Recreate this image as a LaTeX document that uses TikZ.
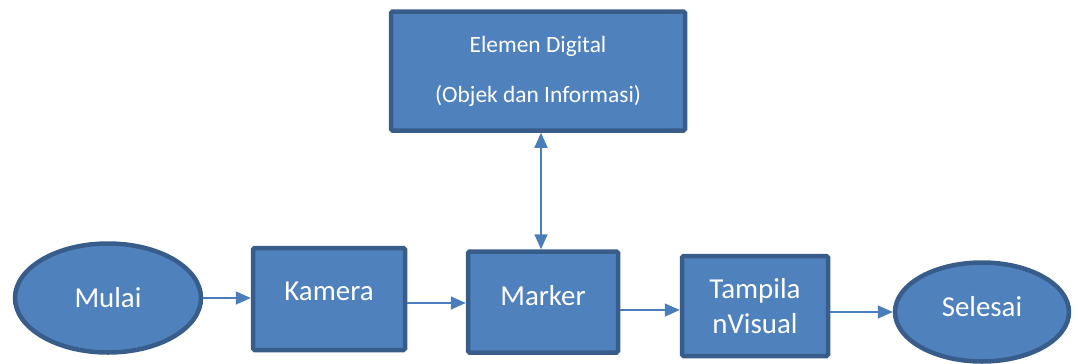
\documentclass[tikz,border=0pt]{standalone}
\usepackage{fontspec}
\setmainfont{Carlito}
\usetikzlibrary{shapes.geometric,arrows.meta,calc}
\definecolor{boxfill}{HTML}{4F81BD}
\definecolor{boxline}{HTML}{385D8A}
\definecolor{conn}{HTML}{4A7EBB}
\tikzset{
  box/.style={rectangle, draw=boxline, fill=boxfill, line width=4.5bp, rounded corners=1.5bp,
    text=white, font=\fontsize{29}{35}\selectfont, align=center, inner sep=0pt},
  oval/.style={ellipse, draw=boxline, fill=boxfill, line width=4.5bp,
    text=white, font=\fontsize{29}{35}\selectfont, inner sep=0pt},
  conn/.style={draw=conn, line width=1.6bp, -{Triangle[length=15bp,width=13bp]}},
  conn2/.style={draw=conn, line width=1.6bp, {Triangle[length=15bp,width=13bp]}-{Triangle[length=15bp,width=13bp]}}
}
\begin{document}
\begin{tikzpicture}[x=1bp,y=-1bp]
\useasboundingbox (0,0) rectangle (1078,363);
\node[box, minimum width=294bp, minimum height=119bp, font=\fontsize{23.5}{50}\selectfont] (elemen) at (538,71)
  {Elemen Digital\\(Objek dan Informasi)};
\node[oval, minimum width=186bp, minimum height=109bp] (mulai) at (108,298) {Mulai};
\node[box, minimum width=152bp, minimum height=102bp, text depth=16bp] (kamera) at (329,299) {Kamera};
\node[box, minimum width=150bp, minimum height=101bp, text depth=14bp] (marker) at (543,302) {Marker};
\node[box, minimum width=146bp, minimum height=100bp] (tampil) at (755,306) {Tampila\\nVisual};
\node[oval, minimum width=174bp, minimum height=99bp, text depth=12bp] (selesai) at (982,312) {Selesai};
\coordinate (k1) at ($(kamera.east)+(0,4)$);
\coordinate (m1) at ($(marker.east)+(0,8)$);
\coordinate (t1) at ($(tampil.east)+(0,6)$);
\coordinate (e1) at ($(elemen.south -| marker.north)+(-2,0)$);
\coordinate (e2) at ($(marker.north)+(-2,0)$);
\draw[conn] (mulai.east) -- (mulai.east -| kamera.west);
\draw[conn] (k1) -- (k1 -| marker.west);
\draw[conn] (m1) -- (m1 -| tampil.west);
\draw[conn] (t1) -- (t1 -| selesai.west);
\draw[conn2] (e1) -- (e2);
\end{tikzpicture}
\end{document}
